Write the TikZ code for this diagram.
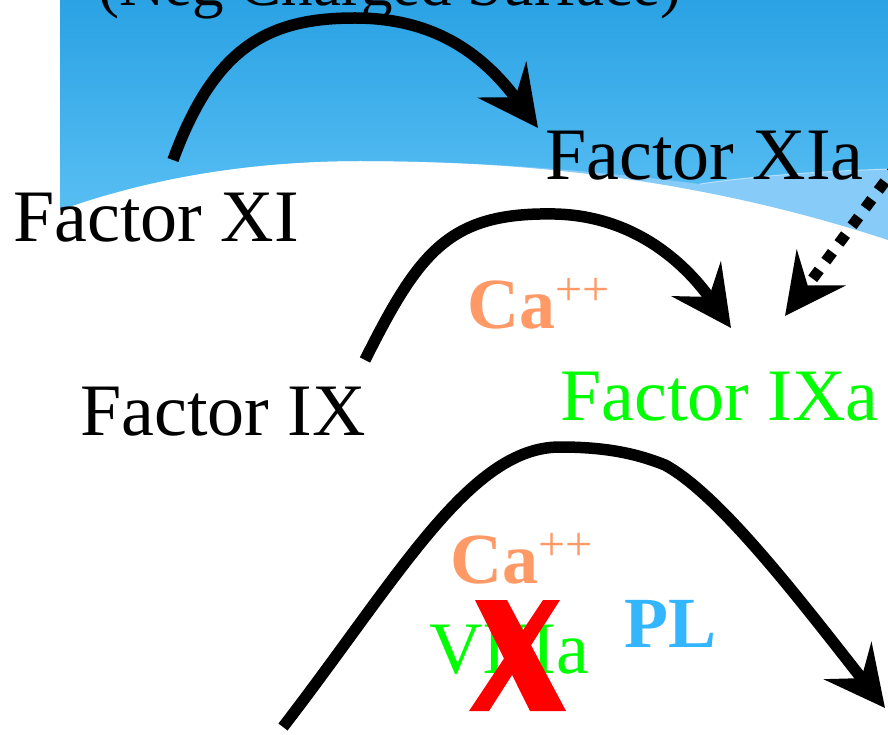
\documentclass[tikz,border=0pt]{standalone}
\usepackage{fontspec}
\setmainfont{Liberation Serif}
\usetikzlibrary{arrows.meta}
\definecolor{bluetop}{RGB}{42,162,228}
\definecolor{bluebot}{RGB}{88,190,243}
\definecolor{bandblue}{RGB}{135,204,248}
\definecolor{caorange}{RGB}{255,153,102}
\definecolor{plblue}{RGB}{51,181,255}
\definecolor{fgreen}{RGB}{0,255,0}
\definecolor{xred}{RGB}{255,0,0}
\begin{document}
\begin{tikzpicture}[x=1pt,y=-1pt,
  lbl/.style={inner sep=0pt, anchor=base west, font=\fontsize{74}{80}\selectfont},
  calbl/.style={inner sep=0pt, anchor=base west, text=caorange, font=\fontsize{72}{80}\selectfont\bfseries},
  flow/.style={line width=11.5pt, -{Stealth[length=60pt,width=60pt,inset=22pt]}},
  dotflow/.style={line width=11pt, dash pattern=on 11pt off 11pt, -{Stealth[length=60pt,width=60pt,inset=22pt]}},
]
\useasboundingbox (0,0) rectangle (888,735);
\clip (0,0) rectangle (888,735);
\fill[white] (0,0) rectangle (888,735);
% light band (whole region)
\fill[bandblue] (60,0) -- (888,0) -- (888,240)
  .. controls (720,185) and (550,161) .. (360,161)
  .. controls (250,161) and (150,178) .. (60,210) -- cycle;
% main gradient surface
\shade[top color=bluetop, bottom color=bluebot] (60,0) -- (888,0) -- (888,169)
  .. controls (800,172) and (740,178) .. (700,184)
  .. controls (620,174) and (500,161) .. (360,161)
  .. controls (250,161) and (150,178) .. (60,210) -- cycle;
\draw[white, opacity=0.5, line width=1pt] (700,184) .. controls (740,178) and (800,172) .. (888,169);

% texts
\node[lbl, font=\fontsize{63}{70}\selectfont] (neg) at (98,6) {(Neg Charged Surface)};
\node[lbl] (xi) at (13,242) {Factor XI};
\node[lbl] (xia) at (545,180) {Factor XIa};
\node[lbl] (ix) at (80,435) {Factor IX};
\node[lbl, text=fgreen] (ixa) at (560,420) {Factor IXa};
\node[calbl] (ca1) at (467,328) {Ca\raisebox{23pt}{\fontsize{48}{50}\selectfont\mdseries ++}};
\node[calbl] (ca2) at (450,583) {Ca\raisebox{23pt}{\fontsize{48}{50}\selectfont\mdseries ++}};
\node[lbl, text=fgreen] (viiia) at (429,673) {VIIIa};
\node[calbl, text=plblue] (pl) at (624,647) {PL};

% red cross over VIIIa
\fill[xred] (475,600) -- (507,600) -- (566,711) -- (530,711) -- cycle;
\fill[xred] (543,600) -- (560,600) -- (489,711) -- (469,711) -- cycle;

% connector end points
\coordinate (s1) at (173,160);
\coordinate (e1) at (538,128);
\coordinate (s2) at (365,360);
\coordinate (e2) at (731,328);
\coordinate (s3) at (283,727);
\coordinate (e3) at (885,708);
\coordinate (s4) at (898,164);
\coordinate (e4) at (785,316);

\draw[flow] (s1) .. controls (215,45) and (270,18) .. (355,18)
  .. controls (430,18) and (480,50) .. (e1);
\draw[flow] (s2) .. controls (420,250) and (450,212) .. (555,214)
  .. controls (640,216) and (690,270) .. (e2);
\draw[flow] (s3) .. controls (400,575) and (470,447) .. (560,447)
  .. controls (610,447) and (640,455) .. (665,465)
  .. controls (720,495) and (800,600) .. (e3);
\draw[dotflow] (s4) -- (e4);
\end{tikzpicture}
\end{document}
